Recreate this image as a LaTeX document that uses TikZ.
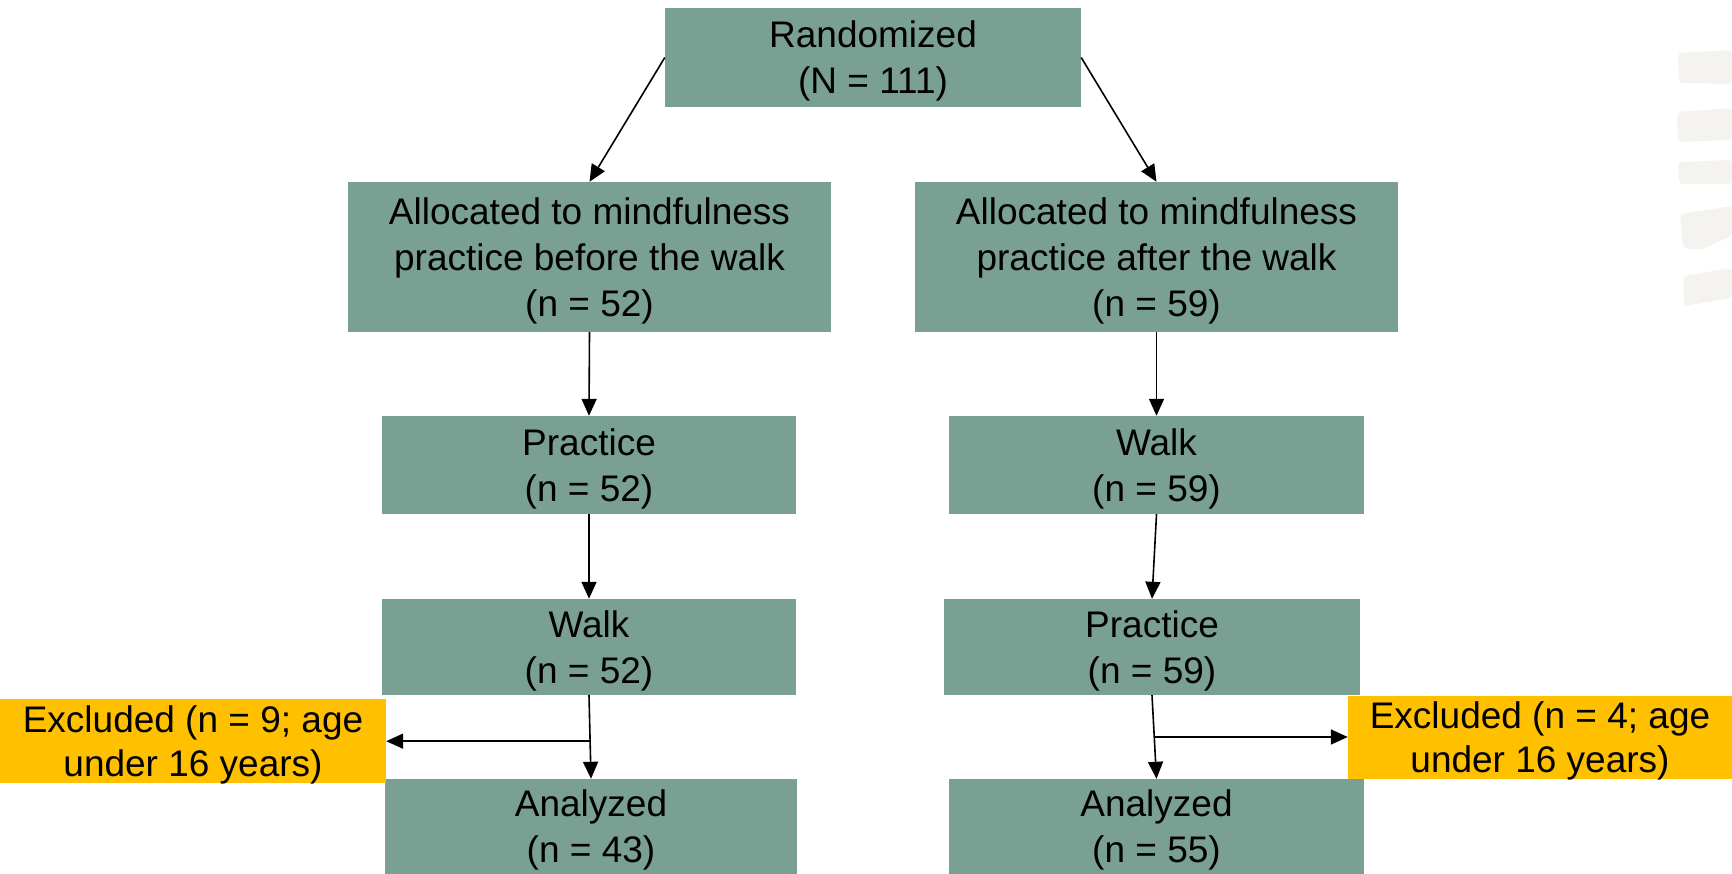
\documentclass[tikz,border=0pt]{standalone}
\usepackage{fontspec}
\setmainfont{Liberation Sans}
\usetikzlibrary{arrows.meta,calc}
\definecolor{teal1}{RGB}{122,160,148}
\definecolor{amber}{RGB}{255,192,0}
\definecolor{brush}{RGB}{244,243,240}
\begin{document}
\begin{tikzpicture}[x=1pt,y=-1pt,
  box/.style={rectangle,fill=teal1,inner sep=0pt,text depth=0pt,align=center,font=\fontsize{37}{46}\selectfont},
  exbox/.style={rectangle,fill=amber,inner sep=0pt,text depth=0pt,align=center,font=\fontsize{37}{44}\selectfont},
  arr/.style={line width=1.6pt,-{Triangle[length=17pt,width=15pt]}},
  stroke/.style={fill=brush,rounded corners=4pt}]
\useasboundingbox (0,0) rectangle (1732,874);
% faint brush strokes at right edge
\fill[stroke] (1678,53) -- (1732,50) -- (1732,84) -- (1679,83) -- cycle;
\fill[stroke] (1677,112) -- (1732,108) -- (1732,140) -- (1678,142) -- cycle;
\fill[stroke] (1678,162) -- (1732,160) -- (1732,184) -- (1679,184) -- cycle;
\fill[stroke] (1680,214) -- (1732,206) -- (1732,236) -- (1700,250) -- (1683,248) -- cycle;
\fill[stroke] (1683,276) -- (1732,268) -- (1732,298) -- (1684,306) -- cycle;

\node[box,minimum width=416,minimum height=99] (rand) at (873,57.5) {Randomized\\(N = 111)};
\node[box,minimum width=483,minimum height=150] (allocL) at (589.5,257) {Allocated to mindfulness\\practice before the walk\\(n = 52)};
\node[box,minimum width=483,minimum height=150] (allocR) at (1156.5,257) {Allocated to mindfulness\\practice after the walk\\(n = 59)};
\node[box,minimum width=414,minimum height=98] (pracL) at (589,465) {Practice\\(n = 52)};
\node[box,minimum width=415,minimum height=98] (walkR) at (1156.5,465) {Walk\\(n = 59)};
\node[box,minimum width=414,minimum height=96] (walkL) at (589,647) {Walk\\(n = 52)};
\node[box,minimum width=416,minimum height=96] (pracR) at (1152,647) {Practice\\(n = 59)};
\node[box,minimum width=412,minimum height=95] (anaL) at (591,826.5) {Analyzed\\(n = 43)};
\node[box,minimum width=415,minimum height=95] (anaR) at (1156.5,826.5) {Analyzed\\(n = 55)};
\node[exbox,minimum width=386,minimum height=84] (exL) at (193,741) {Excluded (n = 9; age\\under 16 years)};
\node[exbox,minimum width=384,minimum height=83] (exR) at (1540,737.5) {Excluded (n = 4; age\\under 16 years)};

\draw[arr] (rand.west) -- (allocL.north);
\draw[arr] (rand.east) -- (allocR.north);
\draw[arr] (allocL.south) -- (pracL.north);
\draw[arr] (allocR.south) -- (walkR.north);
\draw[arr] (pracL.south) -- (walkL.north);
\draw[arr] (walkR.south) -- (pracR.north);
\draw[arr] (walkL.south) -- (anaL.north);
\draw[arr] (pracR.south) -- (anaR.north);
\coordinate (bL) at ($(walkL.south)!0.55!(anaL.north)$);
\coordinate (bR) at ($(pracR.south)!0.5!(anaR.north)$);
\draw[arr] (bL) -- (bL -| exL.east);
\draw[arr] (bR) -- (bR -| exR.west);
\end{tikzpicture}
\end{document}
